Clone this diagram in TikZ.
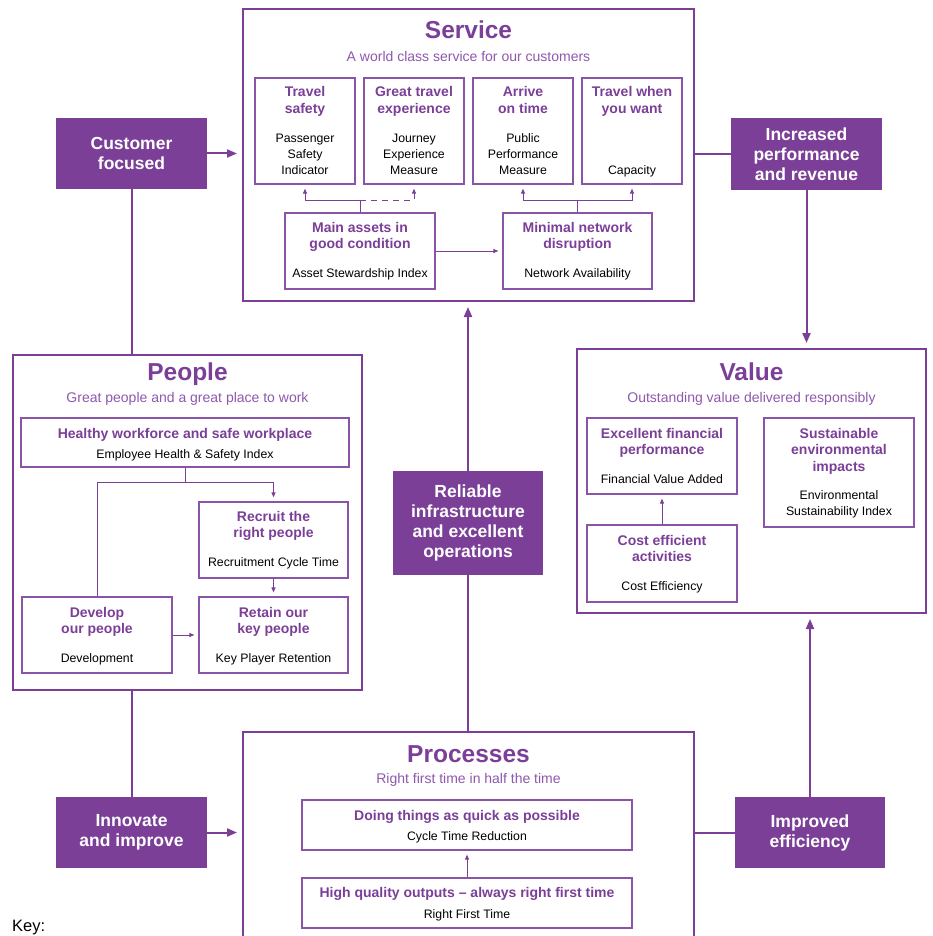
\documentclass[tikz,border=0pt]{standalone}
\usepackage{fontspec}
\setmainfont{Liberation Sans}
\usetikzlibrary{arrows.meta,calc}

\definecolor{nrpurple}{HTML}{7B3F98}
\definecolor{nrlilac}{HTML}{8F58AD}
\definecolor{nredge}{HTML}{8A55A8}

\tikzset{
  mainbox/.style={draw=nrpurple, line width=2pt, inner sep=0pt},
  subbox/.style={draw=nredge, line width=1.2pt, inner sep=0pt},
  driver/.style={fill=nrpurple, text=white, inner sep=0pt, align=center,
    font=\fontsize{17.5}{20}\selectfont\bfseries},
  bigtitle/.style={anchor=base, text=nrpurple, inner sep=0pt,
    font=\fontsize{24.5}{28}\selectfont\bfseries},
  tagline/.style={anchor=base, text=nrlilac, inner sep=0pt,
    font=\fontsize{14}{16}\selectfont},
  % multi-line texts: the base anchor sits on the last line
  head/.style={anchor=base, text=nrpurple, align=center, inner sep=0pt,
    font=\fontsize{14}{16.5}\selectfont\bfseries},
  measure/.style={anchor=base, text=black, align=center, inner sep=0pt,
    font=\fontsize{12.3}{16.2}\selectfont},
  link/.style={draw=nrpurple, line width=2pt},
  linkarr/.style={link, -{Triangle[length=10pt,width=8pt]}, shorten >=5pt},
  sublink/.style={draw=nrpurple, line width=1pt},
  subarr/.style={sublink, -{Triangle[length=5pt,width=4pt]}, shorten >=4pt},
}

% a named rectangle given by its left, top, right and bottom edges
\newcommand\mkpane[6]{%
  \node[#2, minimum width={(#5)-(#3)}, minimum height={(#6)-(#4)}]
    (#1) at ({((#3)+(#5))/2},{((#4)+(#6))/2}) {};}
% a named filled driver box with its text
\newcommand\mkdriver[6]{%
  \node[driver, minimum width={(#4)-(#2)}, minimum height={(#5)-(#3)}]
    (#1) at ({((#2)+(#4))/2},{((#3)+(#5))/2}) {#6};}

\begin{document}
\begin{tikzpicture}[x=1pt,y=-1pt]
\useasboundingbox (0,0) rectangle (933,936);
\fill[white] (0,0) rectangle (933,936);

% ---------------- Service ----------------
\mkpane{service}{mainbox}{243}{9}{694}{301}
\node[bigtitle] (service-t) at (468.5,39) {Service};
\node[tagline] (service-s) at (468.5,61.5) {A world class service for our customers};

\mkpane{ts}{subbox}{255}{78}{355}{184}
\mkpane{ge}{subbox}{364}{78}{464}{184}
\mkpane{ot}{subbox}{473}{78}{573}{184}
\mkpane{tw}{subbox}{582}{78}{682}{184}
\mkpane{assets}{subbox}{285}{213}{435}{289}
\mkpane{net}{subbox}{503}{213}{652}{289}

\node[head] (ts-h) at (305,113.5) {Travel\\safety};
\node[measure] (ts-m) at (305,175) {Passenger\\Safety\\Indicator};
\node[head] (ge-h) at (414,113.5) {Great travel\\experience};
\node[measure] (ge-m) at (414,175) {Journey\\Experience\\Measure};
\node[head] (ot-h) at (523,113.5) {Arrive\\on time};
\node[measure] (ot-m) at (523,175) {Public\\Performance\\Measure};
\node[head] (tw-h) at (632,113.5) {Travel when\\you want};
\node[measure] (tw-m) at (632,175) {Capacity};
\node[head] (assets-h) at (360,248.5) {Main assets in\\good condition};
\node[measure] (assets-m) at (360,277) {Asset Stewardship Index};
\node[head] (net-h) at (577.5,248.5) {Minimal network\\disruption};
\node[measure] (net-m) at (577.5,277) {Network Availability};

\coordinate (srow) at (0,200);
\draw[sublink] (assets.north) -- (assets.north |- srow);
\draw[subarr] (assets.north |- srow) -| (ts.south);
\draw[subarr, dash pattern=on 6pt off 5pt] (assets.north |- srow) -| (ge.south);
\draw[sublink] (net.north) -- (net.north |- srow);
\draw[subarr] (net.north |- srow) -| (ot.south);
\draw[subarr] (net.north |- srow) -| (tw.south);
\draw[subarr] (assets.east) -- (net.west);

% ---------------- People ----------------
\mkpane{people}{mainbox}{13}{355}{362}{690}
\node[bigtitle] (people-t) at (187.5,380) {People};
\node[tagline] (people-s) at (187.5,402) {Great people and a great place to work};

\mkpane{healthy}{subbox}{21}{418}{349}{467}
\mkpane{recruit}{subbox}{199}{502}{348}{578}
\mkpane{develop}{subbox}{22}{597}{172}{673}
\mkpane{retain}{subbox}{199}{597}{348}{673}

\node[head] (healthy-h) at (185,438) {Healthy workforce and safe workplace};
\node[measure] (healthy-m) at (185,458) {Employee Health \& Safety Index};
\node[head] (recruit-h) at (273.5,537.5) {Recruit the\\right people};
\node[measure] (recruit-m) at (273.5,566) {Recruitment Cycle Time};
\node[head] (develop-h) at (97,633.5) {Develop\\our people};
\node[measure] (develop-m) at (97,662) {Development};
\node[head] (retain-h) at (273.5,633.5) {Retain our\\key people};
\node[measure] (retain-m) at (273.5,662) {Key Player Retention};

\coordinate (prow) at (0,482);
\draw[sublink] (healthy.south) -- (healthy.south |- prow);
\draw[subarr] (develop.north) -- (develop.north |- prow) -| (recruit.north);
\draw[subarr] (recruit.south) -- (retain.north);
\draw[subarr] (develop.east) -- (retain.west);

% ---------------- Value ----------------
\mkpane{value}{mainbox}{577}{349}{926}{613}
\node[bigtitle] (value-t) at (751.5,380) {Value};
\node[tagline] (value-s) at (751.5,402.5) {Outstanding value delivered responsibly};

\mkpane{fin}{subbox}{587}{418}{737}{494}
\mkpane{cost}{subbox}{587}{525}{737}{602}
\mkpane{sust}{subbox}{764}{418}{914}{527}

\node[head] (fin-h) at (662,454.5) {Excellent financial\\performance};
\node[measure] (fin-m) at (662,483) {Financial Value Added};
\node[head] (cost-h) at (662,561.5) {Cost efficient\\activities};
\node[measure] (cost-m) at (662,590) {Cost Efficiency};
\node[head] (sust-h) at (839,471) {Sustainable\\environmental\\impacts};
\node[measure] (sust-m) at (839,515.2) {Environmental\\Sustainability Index};

\draw[subarr] (cost.north) -- (fin.south);

% ---------------- Processes ----------------
\mkpane{proc}{mainbox}{243}{732}{694}{960}
\node[bigtitle] (proc-t) at (468.5,762) {Processes};
\node[tagline] (proc-s) at (468.5,783) {Right first time in half the time};

\mkpane{doing}{subbox}{302}{800}{632}{850}
\mkpane{high}{subbox}{302}{878}{632}{928}

\node[head] (doing-h) at (467,820) {Doing things as quick as possible};
\node[measure] (doing-m) at (467,840) {Cycle Time Reduction};
\node[head] (high-h) at (467,897) {High quality outputs – always right first time};
\node[measure] (high-m) at (467,918) {Right First Time};

\draw[subarr] (high.north) -- (doing.south);

% ---------------- Drivers ----------------
\mkdriver{cust}{56}{118}{207}{189}{Customer\\focused}
\mkdriver{incr}{731}{118}{882}{190}{Increased\\performance\\and revenue}
\mkdriver{rel}{393}{471}{543}{575}{Reliable\\infrastructure\\and excellent\\operations}
\mkdriver{innov}{56}{797}{207}{868}{Innovate\\and improve}
\mkdriver{impr}{735}{797}{885}{868}{Improved\\efficiency}

\draw[linkarr] (cust.east) -- (cust.east -| service.west);
\draw[link] (cust.south) -- (cust.south |- people.north);
\draw[link] (incr.west -| service.east) -- (incr.west);
\draw[linkarr] (incr.south) -- (incr.south |- value.north);
\draw[link] (innov.north |- people.south) -- (innov.north);
\draw[linkarr] (innov.east) -- (innov.east -| proc.west);
\draw[link] (rel.south |- proc.north) -- (rel.south);
\draw[linkarr] (rel.north) -- (rel.north |- service.south);
\draw[link] (impr.west -| proc.east) -- (impr.west);
\draw[linkarr] (impr.north) -- (impr.north |- value.south);

% ---------------- Key ----------------
\node[anchor=base west, inner sep=0pt, font=\fontsize{16.5}{18}\selectfont] (key) at (12,931) {Key:};
\end{tikzpicture}
\end{document}
